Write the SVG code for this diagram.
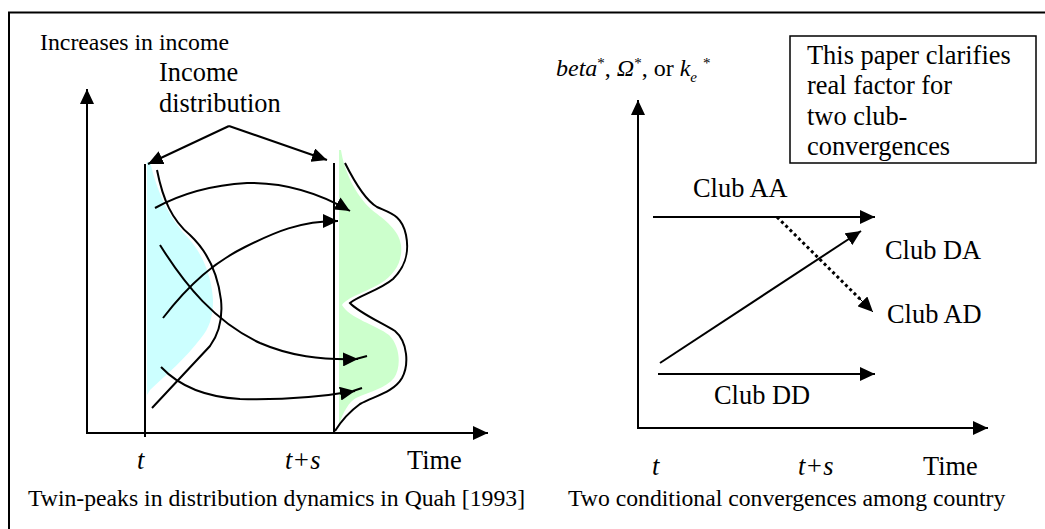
<svg xmlns="http://www.w3.org/2000/svg" width="1045" height="529" viewBox="0 0 1045 529">
<defs>
<marker id="ah" markerUnits="userSpaceOnUse" markerWidth="16" markerHeight="14" refX="15" refY="7" orient="auto"><path d="M0,0 L15,7 L0,14 z" fill="#000"/></marker>
<style>
.t{font-family:'Liberation Serif','DejaVu Serif',serif;fill:#000}
.lb{font-size:26.4px}
.cap{font-size:23.7px}
.it{font-style:italic}
.ln{fill:none;stroke:#000;stroke-width:2}
.ar{fill:none;stroke:#000;stroke-width:2;marker-end:url(#ah)}
</style>
</defs>
<rect width="1045" height="529" fill="#fff"/>
<g id="frame"><path d="M9,540 L9,12.5 L1050,12.5" class="ln"/></g>

<g id="left-panel" font-family="Liberation Serif, DejaVu Serif, serif">
<g id="left-fills">
<path d="M147,162 L150,162 C158,195 170,220 190,240 C205,258 212,280 213,300 C213,318 209,328 201,338 C186,358 166,375 150,390 L147,395 Z" fill="#CCFFFF"/>
<path d="M339,150 L341,150 C344,170 355,195 372,210 C385,220 399,230 401,245 C403,262 394,275 381,283 C366,292 346,298 342,305 C349,318 376,325 389,335 C401,347 401,368 394,378 C386,388 369,392 356,398 C349,402 343,412 339,425 Z" fill="#CCFFCC"/>
</g>
<g id="left-density-t"><path class="ln" d="M157,170 C163,200 172,220 190,235 C208,252 218,275 221,300 C223,320 218,335 210,346 L152,408"/></g>
<g id="left-density-ts"><path class="ln" d="M345,163 C355,183 365,200 377,207 C390,213 402,215 406,235 C410,255 404,268 393,279 C380,290 358,296 350,303 C358,312 380,322 395,331 C408,342 409,365 402,378 C394,392 375,396 360,404 C349,412 340,423 335,431"/></g>
<g id="left-lines">
<line class="ln" x1="145" y1="164" x2="145" y2="437"/>
<line class="ln" x1="334" y1="163" x2="334" y2="433"/>
</g>
<g id="left-labels">
<text class="t" x="40" y="50" style="font-size:23.8px">Increases in income</text>
<text class="t lb" x="159" y="81">Income</text>
<text class="t lb" x="159" y="112">distribution</text>
<text class="t lb it" x="137" y="469">t</text>
<text class="t lb it" x="285" y="469">t+s</text>
<text class="t lb" x="407" y="469">Time</text>
<text class="t cap" x="28" y="506">Twin-peaks in distribution dynamics in Quah [1993]</text>
</g>
</g>

<g id="right-panel" font-family="Liberation Serif, DejaVu Serif, serif">
<g id="right-ylabel">
<text class="t" x="556" y="76" style="font-size:24px" xml:space="preserve"><tspan font-style="italic">beta</tspan><tspan dy="-8" font-size="15">*</tspan><tspan dy="8">, </tspan><tspan font-style="italic">Ω</tspan><tspan dy="-8" font-size="15">*</tspan><tspan dy="8">, or </tspan><tspan font-style="italic">k</tspan><tspan dy="6" font-size="15" font-style="italic">e</tspan><tspan dx="6" dy="-14" font-size="15">*</tspan></text>
</g>
<g id="note-box">
<rect x="790" y="36" width="246" height="127" fill="none" stroke="#000" stroke-width="1.5"/>
<text class="t lb" x="807" y="63.5">This paper clarifies</text>
<text class="t lb" x="807" y="94">real factor for</text>
<text class="t lb" x="807" y="124.5">two club-</text>
<text class="t lb" x="807" y="155">convergences</text>
</g>
<g id="right-labels">
<text class="t lb" x="693" y="197">Club AA</text>
<text class="t lb" x="885" y="259">Club DA</text>
<text class="t lb" x="887" y="323">Club AD</text>
<text class="t lb" x="714" y="404">Club DD</text>
<text class="t lb it" x="652" y="475">t</text>
<text class="t lb it" x="798" y="475">t+s</text>
<text class="t lb" x="923" y="475">Time</text>
<text class="t cap" x="568" y="506">Two conditional convergences among country</text>
</g>
</g>

<g id="connectors">
<line class="ar" x1="87" y1="433" x2="87" y2="89"/>
<line class="ar" x1="86" y1="433" x2="488" y2="433"/>
<line class="ar" x1="229" y1="126" x2="148" y2="164"/>
<line class="ar" x1="229" y1="126" x2="327" y2="160"/>
<path class="ar" d="M155,208 Q195,186 247,183 Q300,182 350,211"/>
<path class="ar" d="M163,318 C190,283 215,262 245,247 C275,232 300,221 338,221"/>
<path class="ar" d="M160,245 C185,285 215,322 260,343 C290,356 320,360 358,359"/>
<line class="ln" x1="356" y1="359" x2="367" y2="356"/>
<path class="ar" d="M161,367 C180,387 205,397 240,399 C280,400 315,398 355,391"/>
<line class="ln" x1="353" y1="391" x2="362" y2="388"/>
<line class="ar" x1="638" y1="428" x2="638" y2="100"/>
<line class="ar" x1="637" y1="428" x2="988" y2="428"/>
<line class="ar" x1="653" y1="217" x2="875" y2="217"/>
<line class="ar" x1="660" y1="363" x2="861" y2="231"/>
<line class="ar" x1="658" y1="374" x2="875" y2="374"/>
<line x1="777" y1="217" x2="862" y2="301" stroke="#000" stroke-width="3" stroke-dasharray="3 3"/>
<line x1="860" y1="299" x2="873" y2="312" stroke="#000" stroke-width="1" marker-end="url(#ah)"/>
</g>
</svg>
